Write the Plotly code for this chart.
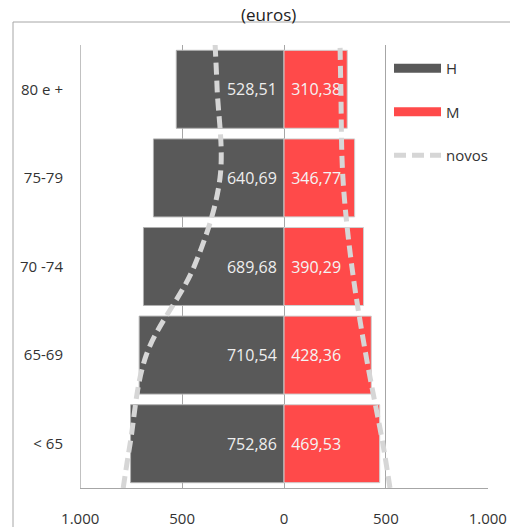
import plotly.graph_objects as go

# Data
categories = ["< 65", "65-69", "70 -74", "75-79", "80 e +"]
homens = [752.86, 710.54, 689.68, 640.69, 528.51]
mulheres = [469.53, 428.36, 390.29, 346.77, 310.38]
homens_txt = ["752,86", "710,54", "689,68", "640,69", "528,51"]
mulheres_txt = ["469,53", "428,36", "390,29", "346,77", "310,38"]
# "novos" curve: plot bottom edge, each category, plot top edge
novos_pos = [-0.5, 0, 1, 2, 3, 4, 4.5]
novos_H = [789, 755, 676, 441, 314, 328, 338]
novos_M = [520, 485, 402, 333, 289, 279, 275]
x_ticks = [-1000, -500, 0, 500, 1000]
x_ticklabels = ["1.000", "500", "0", "500", "1.000"]

C_H = "#595959"
C_M = "#FF4A4A"
C_N = "#D6D6D6"
FONT = "Open Sans"
W, H = 510, 527
L, R, T, B = 80, 22, 45, 39
pw, ph = W - L - R, H - T - B

pos = list(range(len(categories)))
fig = go.Figure()
fig.add_trace(go.Bar(
    y=pos, x=[-v for v in homens], orientation="h", width=0.88,
    marker=dict(color=C_H, line=dict(color="#b0b0b0", width=1)),
    text=[t + "\u00a0" for t in homens_txt], textposition="inside",
    insidetextanchor="start", textangle=0, constraintext="none",
    textfont=dict(color="#eeeeee", size=16, family=FONT),
    showlegend=False, hoverinfo="skip"))
fig.add_trace(go.Bar(
    y=pos, x=mulheres, orientation="h", width=0.88,
    marker=dict(color=C_M, line=dict(color="#d0d0d0", width=1)),
    text=["\u00a0" + t for t in mulheres_txt], textposition="inside",
    insidetextanchor="start", textangle=0, constraintext="none",
    textfont=dict(color="#f4f4f4", size=16, family=FONT),
    showlegend=False, hoverinfo="skip"))
fig.add_trace(go.Scatter(
    x=[-v for v in novos_H], y=novos_pos, mode="lines",
    line=dict(color=C_N, width=5, dash="12px,6px", shape="spline", smoothing=1.0),
    showlegend=False, hoverinfo="skip"))
fig.add_trace(go.Scatter(
    x=novos_M, y=novos_pos, mode="lines",
    line=dict(color=C_N, width=5, dash="12px,6px", shape="spline", smoothing=1.0),
    showlegend=False, hoverinfo="skip"))
# legend entries
fig.add_trace(go.Scatter(x=[None], y=[None], mode="lines", name="H",
                         line=dict(color=C_H, width=9), legendgroup="a"))
fig.add_trace(go.Scatter(x=[None], y=[None], mode="lines", name="M",
                         line=dict(color=C_M, width=9), legendgroup="b"))
fig.add_trace(go.Scatter(x=[None], y=[None], mode="lines", name="novos",
                         line=dict(color=C_N, width=5, dash="12px,6px"), legendgroup="c"))

fig.add_annotation(text="(euros)", xref="paper", yref="paper",
                   x=(268 - L) / pw, y=1 + (T - 15) / ph, xanchor="center", yanchor="middle",
                   showarrow=False, font=dict(size=17, family=FONT, color="#222222"))
# outer chart border (top and left)
bx0 = (13 - L) / pw
by0 = (H - B - 22) / ph
fig.add_shape(type="line", xref="paper", yref="paper", x0=bx0, x1=(W - L) / pw + 0.05,
              y0=by0, y1=by0, line=dict(color="#a6a6a6", width=1))
fig.add_shape(type="line", xref="paper", yref="paper", x0=bx0, x1=bx0,
              y0=by0, y1=-(B + 5) / ph, line=dict(color="#a6a6a6", width=1))
# left-most gridline at -1000 (edge of range)
fig.add_shape(type="line", xref="x", yref="paper", x0=x_ticks[0], x1=x_ticks[0],
              y0=0, y1=1, layer="below", line=dict(color="#a6a6a6", width=1))

fig.update_layout(
    width=W, height=H, margin=dict(l=L, r=R, t=T, b=B, autoexpand=False),
    paper_bgcolor="white", plot_bgcolor="white",
    barmode="overlay", bargap=0.12,
    font=dict(family=FONT, color="#333333"),
    showlegend=True,
    legend=dict(x=(389 - L) / pw, xanchor="left", y=1.0 - 7 / ph, yanchor="top",
                bgcolor="white", borderwidth=0, itemwidth=47,
                tracegroupgap=21, font=dict(size=15, family=FONT, color="#333333"),
                itemclick=False),
    xaxis=dict(range=[-1001, 1001], tickvals=x_ticks, ticktext=x_ticklabels,
               showgrid=True, gridcolor="#a6a6a6", gridwidth=1,
               zeroline=True, zerolinecolor="#a6a6a6", zerolinewidth=1,
               showline=True, linecolor="#a6a6a6", linewidth=1,
               ticks="", ticklabelstandoff=17, automargin=False,
               tickfont=dict(size=15, family=FONT, color="#333333")),
    yaxis=dict(range=[-0.5, 4.5], tickvals=pos, ticktext=categories,
               showgrid=False, zeroline=False, showline=False, ticks="",
               ticklabelstandoff=16, automargin=False,
               tickfont=dict(size=15, family=FONT, color="#333333")),
)

fig.write_html("out.html", config={"displayModeBar": False},
               post_script="document.body.style.margin='0';document.body.style.overflow='hidden';")
